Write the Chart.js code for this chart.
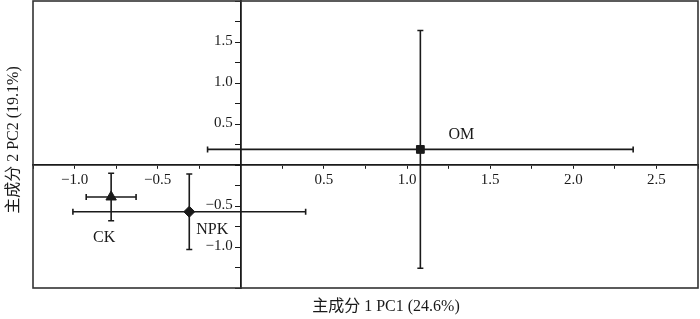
<!DOCTYPE html>
<html lang="zh">
<head>
    <meta charset="utf-8">
    <!-- Include Chart.js -->
    <script src="https://cdn.jsdelivr.net/npm/chart.js"></script>
    <style>
        body {
            margin: 0;
            padding: 0;
            background-color: #ffffff;
        }

        .chart-box {
            position: relative;
            width: 700px;
            height: 319px;
        }
    </style>
</head>
<body>
    <div class="chart-box">
        <canvas id="pcaChart"></canvas>
    </div>
    <script>
        // Group scores on the first two principal components (mean +/- error)
        const groups = ['CK', 'NPK', 'OM'];
        const pc1 = [-0.78, -0.31, 1.08];
        const pc2 = [-0.39, -0.57, 0.19];
        const pc1Err = [0.15, 0.70, 1.28];
        const pc2Err = [0.29, 0.46, 1.45];
        const markers = ['triangle', 'rectRot', 'rect'];

        // Tick values that carry a label
        const xTickLabels = [-1.0, -0.5, 0.5, 1.0, 1.5, 2.0, 2.5];
        const yTickLabels = [-1.0, -0.5, 0.5, 1.0, 1.5];

        const xTitle = '主成分 1 PC1 (24.6%)';
        const yTitle = '主成分 2 PC2 (19.1%)';

        const ink = '#1a1a1a';
        const serif = "'Liberation Serif', 'Noto Sans CJK SC', serif";

        // Pixel offsets of the group names from their points
        const labelOffsets = [[-7, 41], [23, 18], [41, -15]];

        function fmt(v) {
            return v.toFixed(1).replace('-', '\u2212');
        }

        // Error bars, frame, tick labels, group names and axis titles
        const pcaDecor = {
            id: 'pcaDecor',
            beforeDatasetsDraw(chart) {
                const ctx = chart.ctx;
                const xs = chart.scales.x;
                const ys = chart.scales.y;
                const cap = 3;
                ctx.save();
                ctx.strokeStyle = ink;
                ctx.lineWidth = 1.6;
                groups.forEach((g, i) => {
                    const px = xs.getPixelForValue(pc1[i]);
                    const py = ys.getPixelForValue(pc2[i]);
                    const x0 = xs.getPixelForValue(pc1[i] - pc1Err[i]);
                    const x1 = xs.getPixelForValue(pc1[i] + pc1Err[i]);
                    const y0 = ys.getPixelForValue(pc2[i] - pc2Err[i]);
                    const y1 = ys.getPixelForValue(pc2[i] + pc2Err[i]);
                    ctx.beginPath();
                    ctx.moveTo(x0, py); ctx.lineTo(x1, py);
                    ctx.moveTo(x0, py - cap); ctx.lineTo(x0, py + cap);
                    ctx.moveTo(x1, py - cap); ctx.lineTo(x1, py + cap);
                    ctx.moveTo(px, y0); ctx.lineTo(px, y1);
                    ctx.moveTo(px - cap, y0); ctx.lineTo(px + cap, y0);
                    ctx.moveTo(px - cap, y1); ctx.lineTo(px + cap, y1);
                    ctx.stroke();
                });
                ctx.restore();
            },
            afterDraw(chart) {
                const ctx = chart.ctx;
                const area = chart.chartArea;
                const xs = chart.scales.x;
                const ys = chart.scales.y;
                const x0 = xs.getPixelForValue(0);
                const y0 = ys.getPixelForValue(0);
                ctx.save();
                ctx.strokeStyle = '#333333';
                ctx.lineWidth = 1.6;
                ctx.strokeRect(area.left, area.top, area.right - area.left, area.bottom - area.top);

                ctx.fillStyle = ink;
                ctx.font = '15px ' + serif;

                // tick labels along the zero lines
                ctx.textAlign = 'center';
                ctx.textBaseline = 'middle';
                xTickLabels.forEach(v => ctx.fillText(fmt(v), xs.getPixelForValue(v), y0 + 15));
                ctx.textAlign = 'right';
                yTickLabels.forEach(v => ctx.fillText(fmt(v), x0 - 8, ys.getPixelForValue(v) - 1));

                ctx.font = '16px ' + serif;
                ctx.textAlign = 'center';
                groups.forEach((g, i) => {
                    const px = xs.getPixelForValue(pc1[i]);
                    const py = ys.getPixelForValue(pc2[i]);
                    ctx.fillText(g, px + labelOffsets[i][0], py + labelOffsets[i][1]);
                });

                ctx.fillText(xTitle, 386, 307);
                ctx.translate(14, 140);
                ctx.rotate(-Math.PI / 2);
                ctx.fillText(yTitle, 0, 0);
                ctx.restore();
            }
        };

        const ctx = document.getElementById('pcaChart').getContext('2d');
        new Chart(ctx, {
            type: 'scatter',
            data: {
                datasets: [{
                    data: groups.map((g, i) => ({ x: pc1[i], y: pc2[i] })),
                    pointStyle: markers,
                    pointRadius: [6, 5.5, 5.5],
                    backgroundColor: ink,
                    borderColor: ink,
                    borderWidth: 1
                }]
            },
            options: {
                responsive: true,
                maintainAspectRatio: false,
                animation: false,
                layout: {
                    autoPadding: false,
                    padding: { left: 33, right: 2, top: 1, bottom: 31 }
                },
                plugins: {
                    legend: { display: false },
                    tooltip: { enabled: false }
                },
                scales: {
                    x: {
                        type: 'linear',
                        min: -1.25,
                        max: 2.75,
                        position: { y: 0 },
                        border: { color: ink, width: 1.8 },
                        grid: { drawOnChartArea: false, tickLength: 3, color: ink, tickWidth: 1 },
                        ticks: { stepSize: 0.25, autoSkip: false, display: false }
                    },
                    y: {
                        type: 'linear',
                        min: -1.5,
                        max: 2.0,
                        position: { x: 0 },
                        border: { color: ink, width: 1.8 },
                        grid: { drawOnChartArea: false, tickLength: 5, color: ink, tickWidth: 1 },
                        ticks: { stepSize: 0.25, autoSkip: false, display: false }
                    }
                }
            },
            plugins: [pcaDecor]
        });
    </script>
</body>
</html>
